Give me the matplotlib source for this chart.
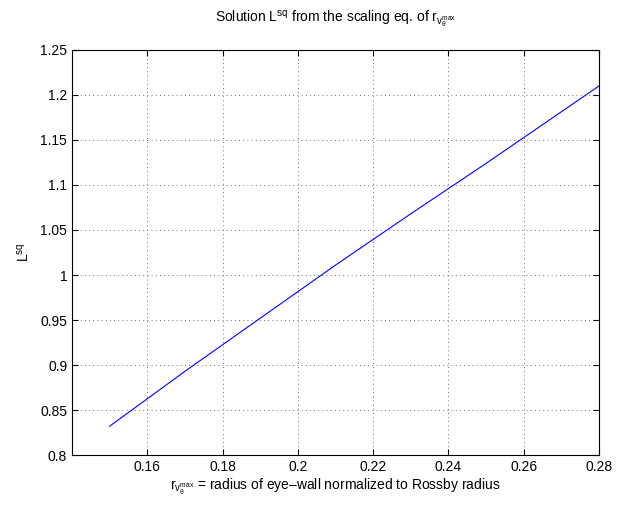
import matplotlib
matplotlib.use("Agg")
import matplotlib.pyplot as plt

plt.rcParams['font.family'] = ['Liberation Sans', 'DejaVu Sans']
plt.rcParams['mathtext.fontset'] = 'custom'
plt.rcParams['mathtext.rm'] = 'Liberation Sans'
plt.rcParams['mathtext.it'] = 'Liberation Sans'
plt.rcParams['mathtext.sf'] = 'Liberation Sans'

x_vals = [0.15, 0.17, 0.19, 0.21, 0.23, 0.25, 0.28]
l_sq = [0.832, 0.893, 0.952, 1.011, 1.068, 1.124, 1.210]
x_ticks = [0.16, 0.18, 0.2, 0.22, 0.24, 0.26, 0.28]
x_tick_labels = ['0.16', '0.18', '0.2', '0.22', '0.24', '0.26', '0.28']
y_ticks = [0.8, 0.85, 0.9, 0.95, 1.0, 1.05, 1.1, 1.15, 1.2, 1.25]
y_tick_labels = ['0.8', '0.85', '0.9', '0.95', '1', '1.05', '1.1', '1.15', '1.2', '1.25']

fig = plt.figure(figsize=(6.17, 5.08), dpi=100)
ax = fig.add_axes([0.1167, 0.1043, 0.8541, 0.7973])
ax.plot(x_vals, l_sq, color='#0000ff', lw=0.8)
ax.set_xlim(0.14, 0.28)
ax.set_ylim(0.8, 1.25)
ax.set_xticks(x_ticks)
ax.set_xticklabels(x_tick_labels)
ax.set_yticks(y_ticks)
ax.set_yticklabels(y_tick_labels)
ax.tick_params(direction='in', length=4, labelsize=10, top=True, right=True, width=0.8)
ax.grid(True, linestyle=(0, (1, 4)), color='#404040', lw=0.6)
for s in ax.spines.values():
    s.set_linewidth(0.8)
ax.set_title(r'Solution L$^{\mathrm{sq}}$ from the scaling eq. of r$_{\mathrm{v}_\theta^{\mathrm{max}}}$', fontsize=10, pad=20)
ax.set_xlabel(r'r$_{\mathrm{v}_\theta^{\mathrm{max}}}$ = radius of eye–wall normalized to Rossby radius', fontsize=10, labelpad=2)
ax.set_ylabel(r'L$^{\mathrm{sq}}$', fontsize=10, labelpad=6)
fig.savefig('out.png', dpi=100)
